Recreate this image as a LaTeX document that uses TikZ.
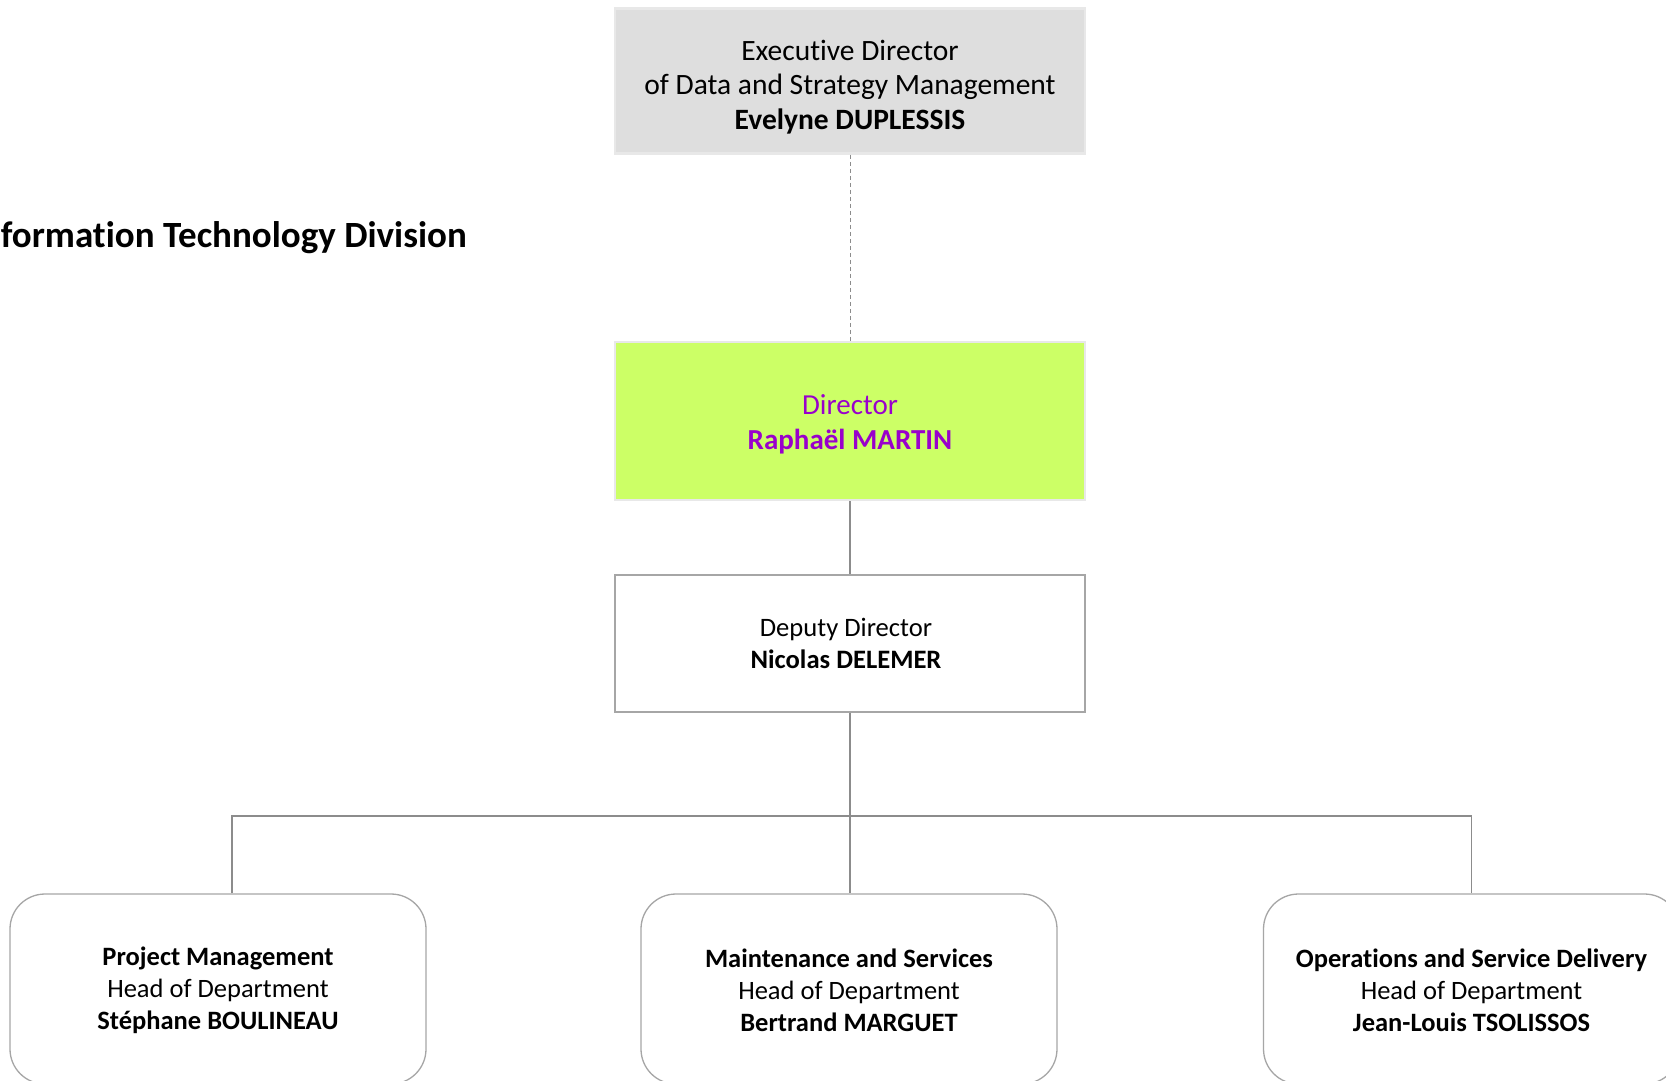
\documentclass[tikz,border=0pt]{standalone}
\usepackage{fontspec}
\setmainfont[RawFeature={-liga;-clig;-calt;-dlig}]{Carlito}
\usepackage{tikz}
\usetikzlibrary{positioning}

\definecolor{boxgray}{HTML}{DEDEDE}
\definecolor{rimgray}{HTML}{E8E8E8}
\definecolor{limegreen}{HTML}{CCFF66}
\definecolor{purpletext}{HTML}{9900CC}
\definecolor{linegray}{HTML}{8C8C8C}
\definecolor{framegray}{HTML}{A6A6A6}

\begin{document}
\begin{tikzpicture}[x=1pt, y=-1pt,
    topbox/.style={draw=rimgray, line width=2.5pt, fill=boxgray, minimum width=470pt,
        minimum height=145pt, inner sep=0pt},
    dirbox/.style={draw=rimgray, line width=2.5pt, fill=limegreen, minimum width=470pt,
        minimum height=158pt, inner sep=0pt},
    deputybox/.style={draw=framegray, line width=1.3pt, fill=white, minimum width=470pt,
        minimum height=137pt, inner sep=0pt},
    deptbox/.style={draw=framegray, line width=1.3pt, fill=white, rounded corners=35pt,
        minimum width=416pt, minimum height=190pt, inner sep=0pt},
    boxtext/.style={align=center, inner sep=0pt},
    link/.style={draw=linegray, line width=1.3pt}]
    \useasboundingbox (0,0) rectangle (1666,1080);
    \clip (0,0) rectangle (1666,1080);
    \fill[white] (0,0) rectangle (1666,1080);

    % Division title, cut at the left edge
    \node[anchor=east, inner sep=0pt, font=\fontsize{37}{45}\selectfont\bfseries] (title)
        at (467,238) {Information Technology Division};

    % Management chain
    \node[topbox] (exec) at (850,81) {};
    \node[boxtext, font=\fontsize{29.5}{34.5}\selectfont] (exectext) at ([yshift=-6pt]exec.center)
        {Executive Director\\of Data and Strategy Management\\\textbf{Evelyne DUPLESSIS}};
    \node[dirbox] (director) at (850,421) {};
    \node[boxtext, text=purpletext, font=\fontsize{29}{35}\selectfont] (dirtext) at ([yshift=-3pt]director.center)
        {Director\\\textbf{Raphaël MARTIN}};
    \node[deputybox] (deputy) at (850,643.5) {};
    \node[boxtext, font=\fontsize{26.6}{32}\selectfont] (deputytext) at ([xshift=-4pt]deputy.center)
        {Deputy Director\\\textbf{Nicolas DELEMER}};

    % Departments
    \node[deptbox] (pm) at (218,989) {};
    \node[deptbox] (ms) at (849,989) {};
    \node[deptbox] (osd) at (1471.5,989) {};
    \node[boxtext, font=\fontsize{26.5}{32}\selectfont] (pmtext) at ([yshift=-1pt]pm.center)
        {\textbf{Project Management}\\Head of Department\\\textbf{Stéphane BOULINEAU}};
    \node[boxtext, font=\fontsize{26.5}{32}\selectfont] (mstext) at ([yshift=-1pt]ms.center)
        {\textbf{Maintenance and Services}\\Head of Department\\\textbf{Bertrand MARGUET}};
    \node[boxtext, font=\fontsize{26.5}{32}\selectfont] (osdtext) at ([yshift=-1pt]osd.center)
        {\textbf{Operations and Service Delivery}\\Head of Department\\\textbf{Jean-Louis TSOLISSOS}};

    % Connectors
    \coordinate (bus) at (850,816);
    \draw[link, dashed, dash pattern=on 4pt off 3pt, line width=1pt] (exec) -- (director);
    \draw[link] (director) -- (deputy);
    \draw[link] (deputy.south) -- (deputy.south |- ms.north);
    \draw[link] ([xshift=14pt]pm.north) |- (bus) -| (osd.north);
\end{tikzpicture}
\end{document}
